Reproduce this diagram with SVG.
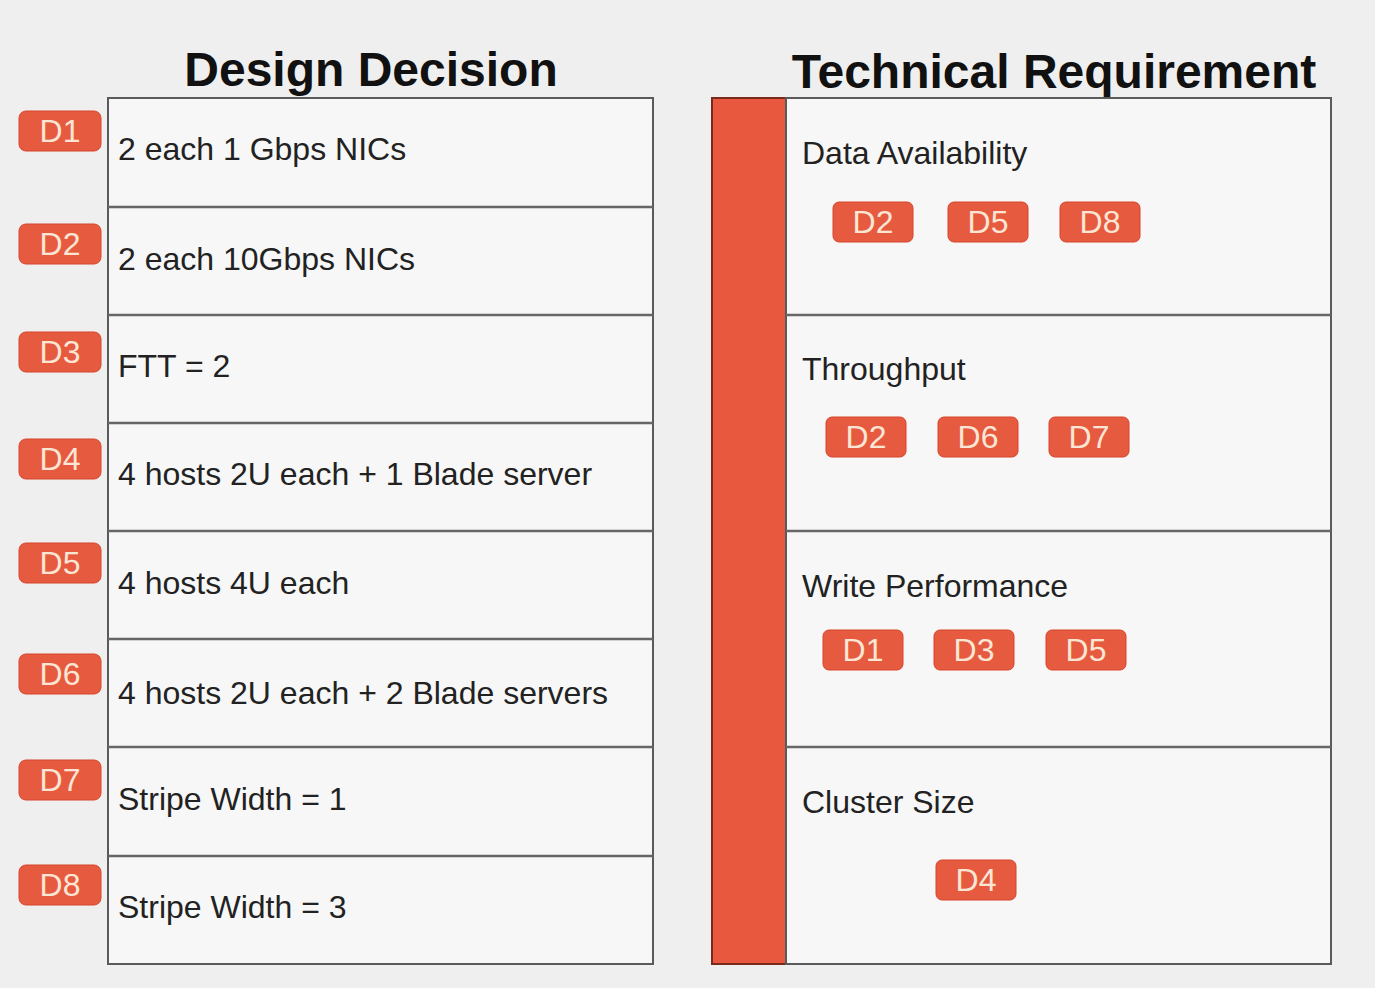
<svg xmlns="http://www.w3.org/2000/svg" width="1375" height="988" viewBox="0 0 1375 988">
<style>
.bg{fill:#efefef}
.cell{fill:#f7f7f7;stroke:#5a5a5a;stroke-width:2}
.div{stroke:#666;stroke-width:2.5}
.badge{fill:#e65a3f;stroke:#d7452c;stroke-width:1}
.bt{font-family:"Liberation Sans",Arial,sans-serif;font-size:32px;fill:#fbe6d6;text-anchor:middle}
.lbl{font-family:"Liberation Sans",Arial,sans-serif;font-size:32px;fill:#222}
.hdr{font-family:"Liberation Sans",Arial,sans-serif;font-size:48px;font-weight:bold;fill:#111;text-anchor:middle}
.bar{fill:#e8583e;stroke:#7a2a1a;stroke-width:2}
</style>
<rect class="bg" x="0" y="0" width="1375" height="988"/>
<text class="hdr" x="371" y="86">Design Decision</text>
<text class="hdr" x="1054" y="88">Technical Requirement</text>

<g id="left-table">
<rect class="cell" x="108" y="98" width="545" height="866"/>
<line class="div" x1="108" y1="207" x2="653" y2="207"/>
<line class="div" x1="108" y1="315" x2="653" y2="315"/>
<line class="div" x1="108" y1="423" x2="653" y2="423"/>
<line class="div" x1="108" y1="531" x2="653" y2="531"/>
<line class="div" x1="108" y1="639" x2="653" y2="639"/>
<line class="div" x1="108" y1="747" x2="653" y2="747"/>
<line class="div" x1="108" y1="856" x2="653" y2="856"/>
</g>

<g id="d1"><rect class="badge" x="19" y="111" width="82" height="40" rx="7"/><text class="bt" x="60" y="142">D1</text><text class="lbl" x="118" y="160">2 each 1 Gbps NICs</text></g>
<g id="d2"><rect class="badge" x="19" y="224" width="82" height="40" rx="7"/><text class="bt" x="60" y="255">D2</text><text class="lbl" x="118" y="270">2 each 10Gbps NICs</text></g>
<g id="d3"><rect class="badge" x="19" y="332" width="82" height="40" rx="7"/><text class="bt" x="60" y="363">D3</text><text class="lbl" x="118" y="377">FTT = 2</text></g>
<g id="d4"><rect class="badge" x="19" y="439" width="82" height="40" rx="7"/><text class="bt" x="60" y="470">D4</text><text class="lbl" x="118" y="485">4 hosts 2U each + 1 Blade server</text></g>
<g id="d5"><rect class="badge" x="19" y="543" width="82" height="40" rx="7"/><text class="bt" x="60" y="574">D5</text><text class="lbl" x="118" y="594">4 hosts 4U each</text></g>
<g id="d6"><rect class="badge" x="19" y="654" width="82" height="40" rx="7"/><text class="bt" x="60" y="685">D6</text><text class="lbl" x="118" y="704">4 hosts 2U each + 2 Blade servers</text></g>
<g id="d7"><rect class="badge" x="19" y="760" width="82" height="40" rx="7"/><text class="bt" x="60" y="791">D7</text><text class="lbl" x="118" y="810">Stripe Width = 1</text></g>
<g id="d8"><rect class="badge" x="19" y="865" width="82" height="40" rx="7"/><text class="bt" x="60" y="896">D8</text><text class="lbl" x="118" y="918">Stripe Width = 3</text></g>

<g id="right-table">
<rect class="bar" x="712" y="98" width="74" height="866"/>
<rect class="cell" x="786" y="98" width="545" height="866"/>
<line class="div" x1="786" y1="315" x2="1331" y2="315"/>
<line class="div" x1="786" y1="531" x2="1331" y2="531"/>
<line class="div" x1="786" y1="747" x2="1331" y2="747"/>
</g>

<g id="data-availability">
<text class="lbl" x="802" y="164">Data Availability</text>
<rect class="badge" x="833" y="202" width="80" height="40" rx="6"/><text class="bt" x="873" y="233">D2</text>
<rect class="badge" x="948" y="202" width="80" height="40" rx="6"/><text class="bt" x="988" y="233">D5</text>
<rect class="badge" x="1060" y="202" width="80" height="40" rx="6"/><text class="bt" x="1100" y="233">D8</text>
</g>
<g id="throughput">
<text class="lbl" x="802" y="380">Throughput</text>
<rect class="badge" x="826" y="417" width="80" height="40" rx="6"/><text class="bt" x="866" y="448">D2</text>
<rect class="badge" x="938" y="417" width="80" height="40" rx="6"/><text class="bt" x="978" y="448">D6</text>
<rect class="badge" x="1049" y="417" width="80" height="40" rx="6"/><text class="bt" x="1089" y="448">D7</text>
</g>
<g id="write-performance">
<text class="lbl" x="802" y="597">Write Performance</text>
<rect class="badge" x="823" y="630" width="80" height="40" rx="6"/><text class="bt" x="863" y="661">D1</text>
<rect class="badge" x="934" y="630" width="80" height="40" rx="6"/><text class="bt" x="974" y="661">D3</text>
<rect class="badge" x="1046" y="630" width="80" height="40" rx="6"/><text class="bt" x="1086" y="661">D5</text>
</g>
<g id="cluster-size">
<text class="lbl" x="802" y="813">Cluster Size</text>
<rect class="badge" x="936" y="860" width="80" height="40" rx="6"/><text class="bt" x="976" y="891">D4</text>
</g>
</svg>
